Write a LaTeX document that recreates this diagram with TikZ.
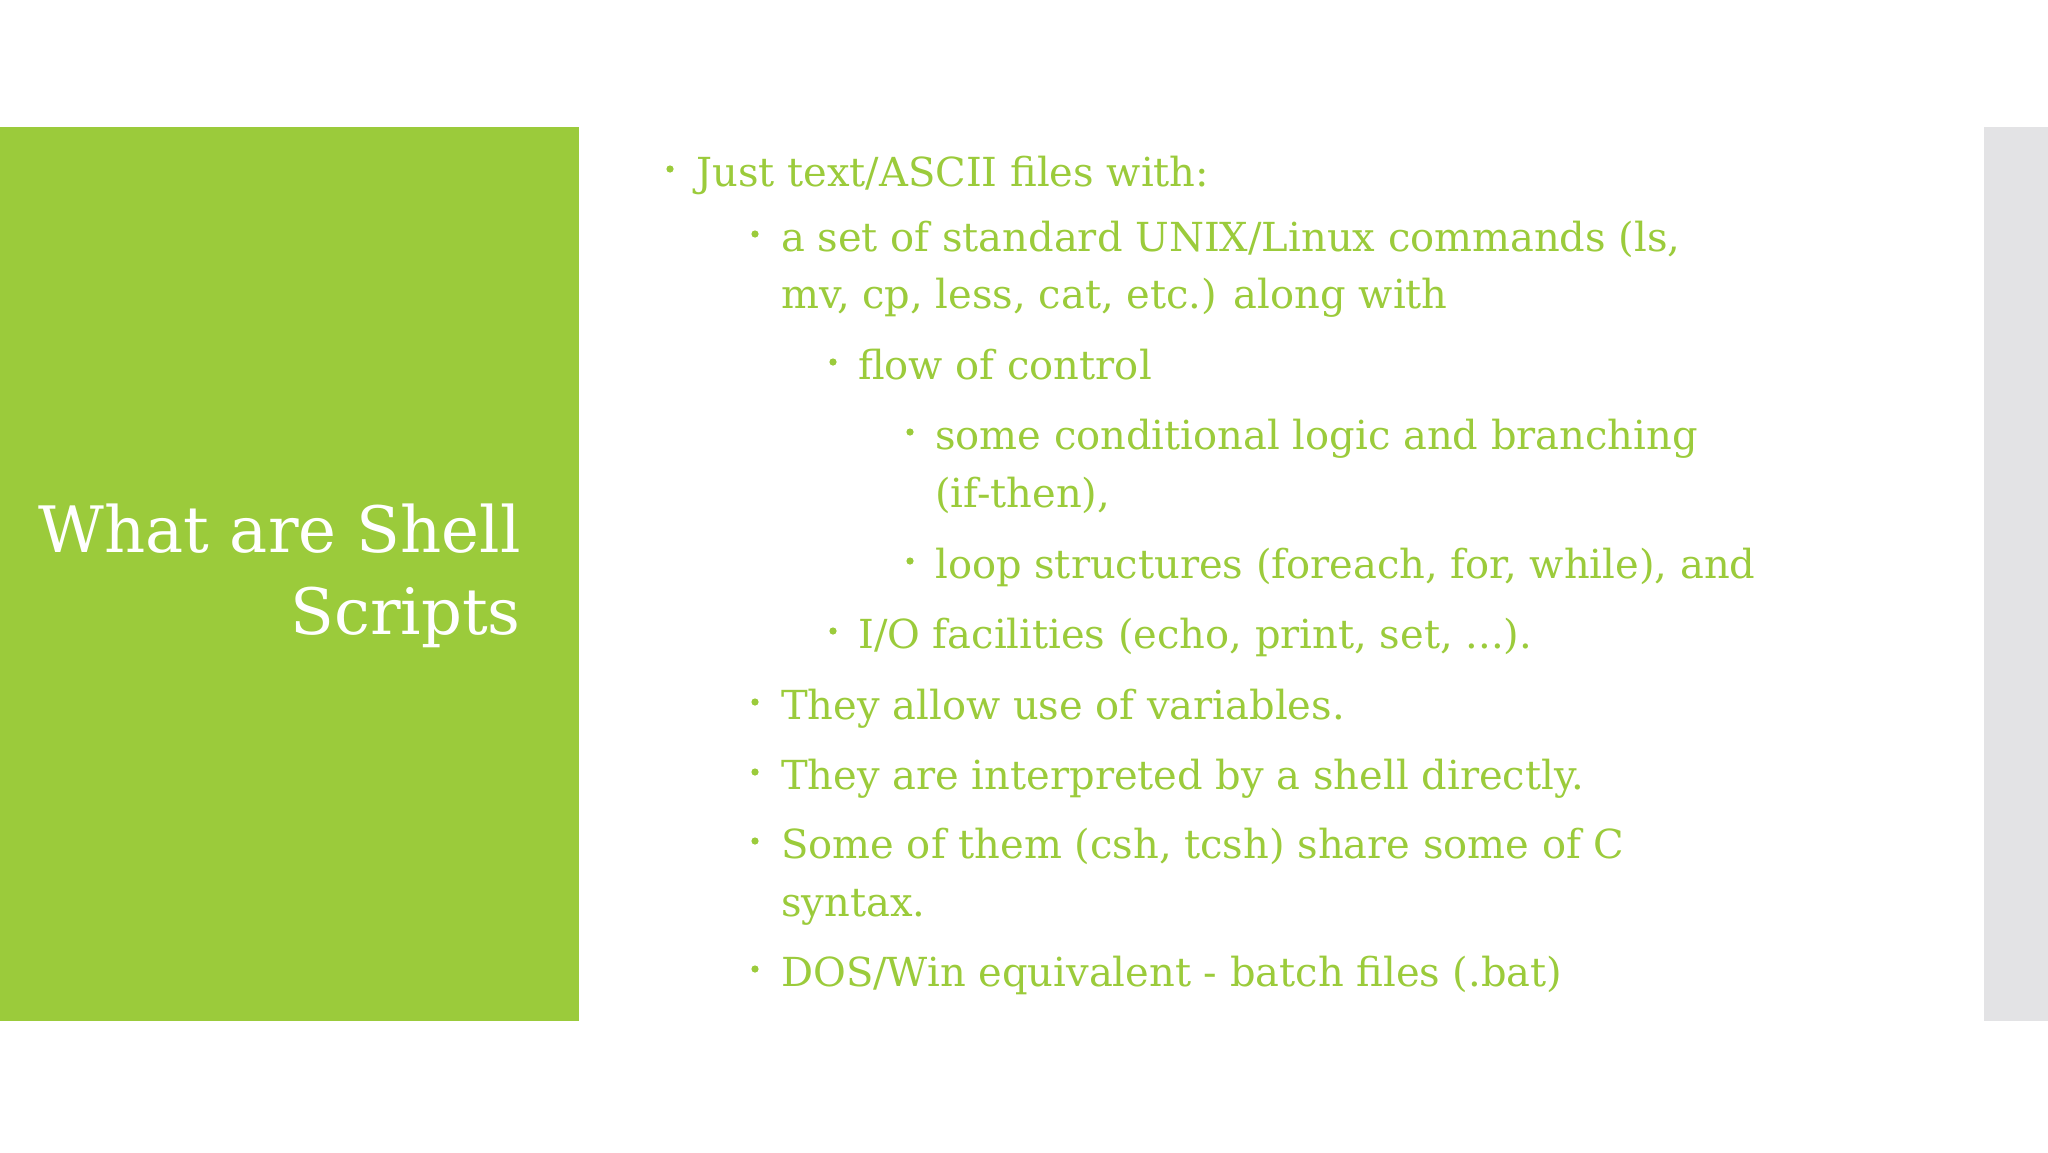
\documentclass[tikz,border=0pt]{standalone}
\usepackage{fontspec}
\setmainfont{DejaVu Serif}
\definecolor{grn}{HTML}{9BCB3B}
\definecolor{gry}{HTML}{E3E3E5}
\begin{document}
\begin{tikzpicture}[x=1pt,y=-1pt,
  body/.style={anchor=mid west,inner sep=0pt,text=grn,font=\fontsize{40}{48}\selectfont},
  dot/.style={fill=grn,draw=none}]
\useasboundingbox (0,0) rectangle (2048,1152);
\fill[white] (0,0) rectangle (2048,1152);
\fill[grn] (0,127) rectangle (579,1021);
\fill[gry] (1984,127) rectangle (2048,1021);
\node[anchor=mid east,inner sep=0pt,text=white,font=\fontsize{64}{76}\selectfont] (t1) at (521,550) {What are Shell};
\node[anchor=mid east,inner sep=0pt,text=white,font=\fontsize{64}{76}\selectfont] (t2) at (521,632) {Scripts};
\foreach \bx/\tx/\y/\txt [count=\i] in {
 670/696/174/{Just text/ASCII files with:},
 755/781/239/{a set of standard UNIX/Linux commands (ls,},
 0/781/296/{mv, cp, less, cat, etc.) along with},
 833/858/367/{flow of control},
 910/935/437/{some conditional logic and branching},
 0/935/495/{(if-then),},
 910/935/566/{loop structures (foreach, for, while), and},
 833/858/636/{I/O facilities (echo, print, set, ...).},
 755/781/707/{They allow use of variables.},
 755/781/777/{They are interpreted by a shell directly.},
 755/781/846/{Some of them (csh, tcsh) share some of C},
 0/781/904/{syntax.},
 755/781/974/{DOS/Win equivalent - batch files (.bat)}}{
  \node[body] (l\i) at (\tx,\y+10) {\txt};
  \ifnum\bx>0 \fill[dot] (\bx,\y-5) circle (3.6); \fi
}
\end{tikzpicture}
\end{document}
